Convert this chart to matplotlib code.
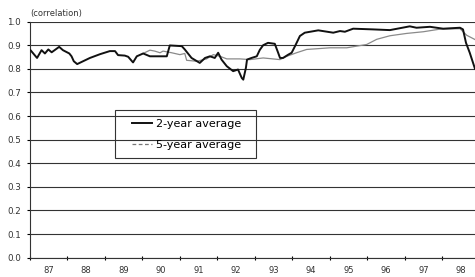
import numpy as np
import matplotlib
matplotlib.use('Agg')
import matplotlib.pyplot as plt
from matplotlib.lines import Line2D
from matplotlib.patches import Rectangle

# 2-year average (thick black line)
two_yr_t = [1987.02, 1987.19, 1987.31, 1987.40, 1987.49, 1987.58, 1987.78, 1987.88,
            1988.05, 1988.11, 1988.17, 1988.26, 1988.60, 1988.87, 1989.13, 1989.27,
            1989.35, 1989.53, 1989.62, 1989.75, 1989.85, 1990.02, 1990.20, 1990.65,
            1990.73, 1991.05, 1991.13, 1991.31, 1991.53, 1991.67, 1991.80, 1991.93,
            1992.02, 1992.11, 1992.25, 1992.42, 1992.55, 1992.65, 1992.69, 1992.76,
            1992.79, 1992.91, 1993.05, 1993.13, 1993.22, 1993.35, 1993.53, 1993.62,
            1993.67, 1993.75, 1993.89, 1993.98, 1994.07, 1994.20, 1994.33, 1994.69,
            1995.09, 1995.27, 1995.40, 1995.62, 1996.15, 1996.60, 1997.13, 1997.31,
            1997.67, 1998.02, 1998.47, 1998.55, 1998.63, 1998.73, 1998.87]
two_yr_v = [0.878, 0.846, 0.879, 0.865, 0.882, 0.870, 0.893, 0.879,
            0.865, 0.853, 0.832, 0.820, 0.846, 0.862, 0.875, 0.875,
            0.858, 0.856, 0.851, 0.827, 0.853, 0.865, 0.853, 0.853,
            0.899, 0.896, 0.882, 0.846, 0.825, 0.846, 0.853, 0.846,
            0.868, 0.839, 0.811, 0.790, 0.797, 0.761, 0.754, 0.804,
            0.839, 0.846, 0.853, 0.880, 0.900, 0.910, 0.906, 0.868,
            0.846, 0.846, 0.860, 0.868, 0.896, 0.939, 0.953, 0.963,
            0.953, 0.960, 0.957, 0.970, 0.967, 0.964, 0.980, 0.974,
            0.978, 0.970, 0.974, 0.967, 0.910, 0.868, 0.800]

# 5-year average (thin grey line)
five_yr_t = [1990.02, 1990.20, 1990.33, 1990.47, 1990.55, 1990.78, 1991.00, 1991.13,
             1991.18, 1991.45, 1991.71, 1991.89, 1992.07, 1992.25, 1992.60, 1992.87,
             1993.22, 1993.67, 1993.85, 1994.11, 1994.38, 1994.65, 1995.00, 1995.45,
             1995.71, 1995.98, 1996.25, 1996.60, 1997.05, 1997.49, 1997.93, 1998.47,
             1998.65, 1998.87]
five_yr_v = [0.865, 0.879, 0.875, 0.868, 0.875, 0.868, 0.860, 0.865,
             0.836, 0.832, 0.842, 0.860, 0.853, 0.842, 0.842, 0.839,
             0.846, 0.839, 0.853, 0.868, 0.882, 0.885, 0.889, 0.889,
             0.896, 0.903, 0.925, 0.940, 0.950, 0.957, 0.968, 0.970,
             0.942, 0.924]

years = ['87', '88', '89', '90', '91', '92', '93', '94', '95', '96', '97', '98']
yticks = np.arange(0, 1.01, 0.1)

fig = plt.figure(figsize=(4.75, 2.77), dpi=100)
ax = fig.add_axes([0.063, 0.070, 0.937, 0.852])

for y in yticks:
    ax.axhline(y, color='#333333', lw=0.8, zorder=1)

ax.plot(five_yr_t, five_yr_v, color='#8a8a8a', lw=0.9, zorder=3)
ax.plot(two_yr_t, two_yr_v, color='#111111', lw=1.4, zorder=4)

ax.set_xlim(1987, 1998.87)
ax.set_ylim(0, 1.0)

ax.set_yticks(yticks)
ax.set_yticklabels(['%.1f' % v for v in yticks], fontsize=6.3, color='#333333')
ax.set_xticks(np.arange(1987, 1999), minor=False)
ax.set_xticklabels([])
ax.set_xticks(np.arange(1987.5, 1999, 1), minor=True)
ax.set_xticklabels(years, minor=True, fontsize=6, color='#333333')
ax.tick_params(axis='x', which='major', direction='inout', length=3, width=0.8)
ax.tick_params(axis='x', which='minor', length=0, pad=6)
ax.tick_params(axis='y', direction='out', length=2.5, width=0.8, pad=4)

for s in ['top', 'right']:
    ax.spines[s].set_visible(False)
ax.spines['left'].set_color('#333333')
ax.spines['bottom'].set_color('#333333')

fig.text(0.063, 0.95, '(correlation)', fontsize=6, color='#333333', va='center')

# legend box drawn separately so it can be wider than the entries
ax.add_patch(Rectangle((0.191, 0.422), 0.317, 0.204, transform=ax.transAxes,
                       facecolor='none', edgecolor='#333333', lw=0.8, zorder=5))
handles = [Line2D([], [], color='#111111', lw=1.4),
           Line2D([], [], color='#777777', lw=0.9, ls=(0, (3, 2)))]
leg = ax.legend(handles, ['2-year average', '5-year average'],
                loc='center', bbox_to_anchor=(0.352, 0.522), borderaxespad=0,
                fontsize=8, frameon=False, handlelength=1.8,
                handletextpad=0.3, borderpad=0.2, labelspacing=1.0)

fig.savefig('out.png', dpi=100)
